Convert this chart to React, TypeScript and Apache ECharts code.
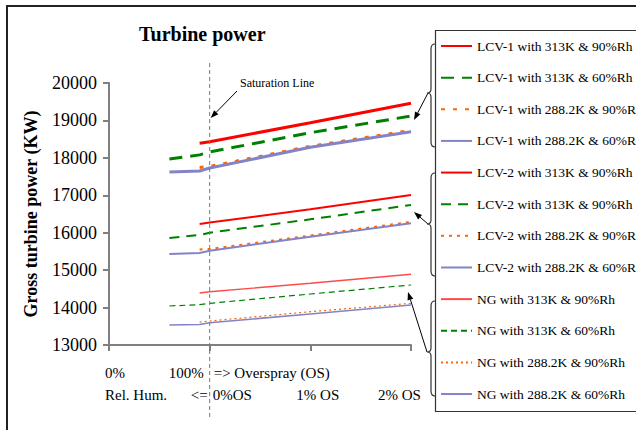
import React, { useEffect, useRef } from "react";
import * as echarts from "echarts";

// ---- data ----
const X60 = [0.6, 0.9, 1.0, 2.0, 3.0]; // 60%Rh series start at 60% rel. hum.
const X90 = [0.9, 1.0, 2.0, 3.0]; // 90%Rh series start at 90% rel. hum.

const LCV1_313_90 = [18390, 18430, 18940, 19460];
const LCV1_313_60 = [17970, 18080, 18157, 18672, 19118];
const LCV1_288_90 = [17745, 17770, 18310, 18735];
const LCV1_288_60 = [17622, 17650, 17729, 18282, 18699];
const LCV2_313_90 = [16233, 16273, 16626, 17008];
const LCV2_313_60 = [15859, 15939, 16000, 16358, 16741];
const LCV2_288_90 = [15552, 15565, 15925, 16290];
const LCV2_288_60 = [15431, 15458, 15520, 15894, 16252];
const NG_313_90 = [14389, 14424, 14648, 14889];
const NG_313_60 = [14042, 14080, 14114, 14363, 14603];
const NG_288_90 = [13615, 13641, 13890, 14114];
const NG_288_60 = [13534, 13548, 13596, 13828, 14069];

const LEGEND_LABELS = [
  "LCV-1 with 313K & 90%Rh",
  "LCV-1 with 313K & 60%Rh",
  "LCV-1 with 288.2K & 90%Rh",
  "LCV-1 with 288.2K & 60%Rh",
  "LCV-2 with 313K & 90%Rh",
  "LCV-2 with 313K & 90%Rh",
  "LCV-2 with 288.2K & 90%Rh",
  "LCV-2 with 288.2K & 60%Rh",
  "NG with 313K & 90%Rh",
  "NG with 313K & 60%Rh",
  "NG with 288.2K & 90%Rh",
  "NG with 288.2K & 60%Rh",
];

const Y_MIN = 13000;
const Y_MAX = 20000;
const Y_STEP = 1000;
const X_TICKS = [0, 1, 2, 3];
// [text left of tick, text right of tick] for the two label rows under each tick
const X_ROW1 = [["", "0%"], ["100%", "=> Overspray (OS)"], ["", ""], ["", ""]];
const X_ROW2 = [["", "Rel. Hum."], ["<=", "0%OS"], ["", "1% OS"], ["", "2% OS"]];

const FONT = "'Liberation Serif', 'Times New Roman', serif";

// ---- styles ----
const RED = "#FF0000";
const GREEN = "#008000";
const ORANGE = "#FF6600";
const BLUE = "#8383C6";

type Sty = { color: string; width: number; dash: any; x: number[]; y: number[] };
const SERIES: Sty[] = [
  { color: RED, width: 3, dash: "solid", x: X90, y: LCV1_313_90 },
  { color: GREEN, width: 3, dash: [13, 8], x: X60, y: LCV1_313_60 },
  { color: ORANGE, width: 3, dash: [4, 8], x: X90, y: LCV1_288_90 },
  { color: BLUE, width: 3, dash: "solid", x: X60, y: LCV1_288_60 },
  { color: RED, width: 2, dash: "solid", x: X90, y: LCV2_313_90 },
  { color: GREEN, width: 2, dash: [10, 7], x: X60, y: LCV2_313_60 },
  { color: ORANGE, width: 2, dash: [3, 5], x: X90, y: LCV2_288_90 },
  { color: BLUE, width: 2, dash: "solid", x: X60, y: LCV2_288_60 },
  { color: "#FF4A4A", width: 1.4, dash: "solid", x: X90, y: NG_313_90 },
  { color: GREEN, width: 1.2, dash: [6, 4], x: X60, y: NG_313_60 },
  { color: ORANGE, width: 1.2, dash: [2, 3], x: X90, y: NG_288_90 },
  { color: BLUE, width: 1.6, dash: "solid", x: X60, y: NG_288_60 },
];

// pixel offsets from the tick: [row1 left-text end, row1 right-text start, row2 left-text end, row2 right-text start]
const LABEL_OFF = [
  [0, -4, 0, -4],
  [-6, 4, -2, 3],
  [0, 0, 0, -14],
  [0, 0, 0, -33],
];
const ROW1_Y = 373;
const ROW2_Y = 395;

function arrow(x1: number, y1: number, x2: number, y2: number) {
  const len = 8;
  const half = 3;
  const ang = Math.atan2(y2 - y1, x2 - x1);
  const bx = x2 - len * Math.cos(ang);
  const by = y2 - len * Math.sin(ang);
  const px = -Math.sin(ang) * half;
  const py = Math.cos(ang) * half;
  return [
    {
      type: "line",
      shape: { x1, y1, x2: bx, y2: by },
      style: { stroke: "#000", lineWidth: 1 },
      z: 20,
    },
    {
      type: "polygon",
      shape: { points: [[x2, y2], [bx + px, by + py], [bx - px, by - py]] },
      style: { fill: "#000" },
      z: 20,
    },
  ];
}

function bracePath(y1: number, ym: number, y2: number) {
  return `M435 ${y1} Q431 ${y1} 431 ${y1 + 5} L431 ${ym - 4} Q431 ${ym} 427 ${ym} Q431 ${ym} 431 ${ym + 4} L431 ${y2 - 5} Q431 ${y2} 435 ${y2}`;
}

const BRACES = [
  [44, 93, 147],
  [173, 224, 276],
  [301, 352, 396],
];
let registered = false;
function registerBraces() {
  if (registered) return;
  BRACES.forEach((b, i) => {
    echarts.graphic.registerShape(
      `brace${i}`,
      (echarts.graphic as any).extendPath(bracePath(b[0], b[1], b[2]), {})
    );
  });
  registered = true;
}

function txt(text: string, x: number, y: number, align: string, size = 15) {
  return {
    type: "text",
    x,
    y,
    style: { text, fontFamily: FONT, fontSize: size, fill: "#000", align, verticalAlign: "middle" },
    z: 20,
  };
}

export default function App() {
  const ref = useRef<HTMLDivElement>(null);
  useEffect(() => {
    if (!ref.current) return;
    registerBraces();
    const chart = echarts.init(ref.current, null, { renderer: "svg" });
    const names = SERIES.map((_, i) => `s${i}`);
    const option: any = {
      animation: false,
      backgroundColor: "#fff",
      textStyle: { fontFamily: FONT },
      title: {
        text: "Turbine power",
        left: 139,
        top: 24,
        padding: 0,
        textStyle: { fontFamily: FONT, fontWeight: "bold", fontSize: 20, color: "#000" },
      },
      grid: { left: 109, right: 225, top: 83, bottom: 85, containLabel: false },
      legend: {
        orient: "vertical",
        left: 440,
        top: 39,
        padding: 0,
        itemWidth: 31,
        itemHeight: 14,
        itemGap: 17.64,
        selectedMode: false,
        data: names,
        itemStyle: { color: "transparent", borderColor: "transparent", borderWidth: 0, opacity: 0 },
        formatter: (n: string) => LEGEND_LABELS[names.indexOf(n)],
        textStyle: { fontFamily: FONT, fontSize: 13.5, lineHeight: 14, color: "#000" },
      },
      xAxis: {
        type: "value",
        min: 0,
        max: 3,
        interval: 1,
        axisLine: { lineStyle: { color: "#808080", width: 2 } },
        axisTick: { show: true, length: 6, lineStyle: { color: "#808080", width: 2 } },
        splitLine: { show: false },
        axisLabel: { show: false },
      },
      yAxis: {
        type: "value",
        min: Y_MIN,
        max: Y_MAX,
        interval: Y_STEP,
        name: "Gross turbine power (KW)",
        nameLocation: "middle",
        nameGap: 69,
        nameTextStyle: { fontFamily: FONT, fontWeight: "bold", fontSize: 18, color: "#000" },
        axisLine: { show: true, lineStyle: { color: "#808080", width: 2 } },
        axisTick: { show: true, length: 6, lineStyle: { color: "#808080", width: 2 } },
        splitLine: { show: false },
        axisLabel: {
          margin: 12,
          fontFamily: FONT,
          fontSize: 18,
          color: "#000",
          showMinLabel: true,
          showMaxLabel: true,
          formatter: (v: number) => String(v),
        },
      },
      series: SERIES.map((s, i) => ({
        type: "line",
        name: names[i],
        data: s.x.map((x, k) => [x, s.y[k]]),
        symbol: "none",
        showSymbol: false,
        smooth: false,
        lineStyle: { color: s.color, width: s.width, type: s.dash },
        itemStyle: { color: s.color },
      })),
    };
    chart.setOption(option);

    const px = (v: number) => chart.convertToPixel({ xAxisIndex: 0 }, v) as number;
    const satX = px(1);
    const labels: any[] = [];
    X_TICKS.forEach((t, i) => {
      const tx = px(t);
      const o = LABEL_OFF[i];
      if (X_ROW1[i][0]) labels.push(txt(X_ROW1[i][0], tx + o[0], ROW1_Y, "right"));
      if (X_ROW1[i][1]) labels.push(txt(X_ROW1[i][1], tx + o[1], ROW1_Y, "left"));
      if (X_ROW2[i][0]) labels.push(txt(X_ROW2[i][0], tx + o[2], ROW2_Y, "right"));
      if (X_ROW2[i][1]) labels.push(txt(X_ROW2[i][1], tx + o[3], ROW2_Y, "left"));
    });
    const graphic: any[] = [
      {
        type: "rect",
        shape: { x: 7, y: 6, width: 700, height: 500 },
        style: { fill: "none", stroke: "#222", lineWidth: 2 },
        z: 1,
      },
      {
        type: "rect",
        shape: { x: 435.5, y: 30.5, width: 300, height: 381 },
        style: { fill: "none", stroke: "#333", lineWidth: 1.2 },
        z: 1,
      },
      {
        type: "line",
        shape: { x1: satX, y1: 63, x2: satX, y2: 420 },
        style: { stroke: "#7a7a7a", lineWidth: 1, lineDash: [4, 3] },
        z: 15,
      },
      txt("Saturation Line", 240, 83, "left", 12),
      ...labels,
      ...arrow(237, 91, satX + 1, 118),
      ...arrow(428, 93, 414, 120),
      ...arrow(428, 224, 414, 212),
      ...arrow(427, 352, 408, 292),
      ...BRACES.map((_, i) => ({
        type: `brace${i}`,
        x: 0,
        y: 0,
        style: { fill: "none", stroke: "#333", lineWidth: 1.2 },
        z: 20,
      })),
    ];
    chart.setOption({ graphic });
    return () => chart.dispose();
  }, []);
  return (
    <div
      ref={ref}
      style={{ position: "fixed", left: 0, top: 0, width: 636, height: 430, background: "#fff" }}
    />
  );
}
